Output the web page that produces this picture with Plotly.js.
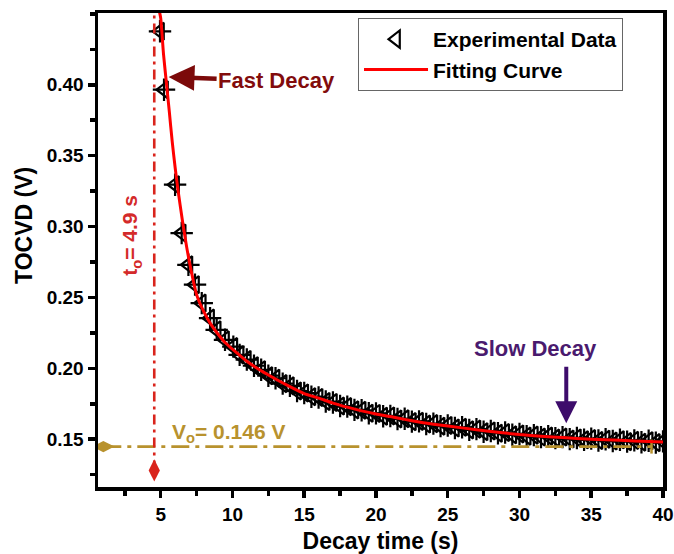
<!DOCTYPE html>
<html>
<head>
<meta charset="utf-8">
<script src="https://cdn.plot.ly/plotly-3.0.1.min.js"></script>
<style>html,body{margin:0;padding:0;background:#fff;}#chart{width:674px;height:554px;}</style>
</head>
<body>
<div id="chart"></div>
<script>
var expTime = [4.95, 5.23, 6.0, 6.46, 6.93, 7.39, 7.86, 8.44, 8.9, 9.48, 10.06,
  10.5, 11.0, 11.5, 12.0, 12.5, 13.0, 13.5, 14.0, 14.5, 15.0, 15.5, 16.0, 16.5, 17.0, 17.5,
  18.0, 18.5, 19.0, 19.5, 20.0, 20.5, 21.0, 21.5, 22.0, 22.5, 23.0, 23.5, 24.0, 24.5, 25.0,
  25.5, 26.0, 26.5, 27.0, 27.5, 28.0, 28.5, 29.0, 29.5, 30.0, 30.5, 31.0, 31.5, 32.0, 32.5,
  33.0, 33.5, 34.0, 34.5, 35.0, 35.5, 36.0, 36.5, 37.0, 37.5, 38.0, 38.5, 39.0, 39.5, 40.0];
var expVoltage = [0.4377, 0.3965, 0.3295, 0.2954, 0.2730, 0.2590, 0.2460, 0.2354, 0.2271, 0.2201, 0.2153,
  0.2095, 0.2062, 0.2018, 0.1990, 0.1948, 0.1930, 0.1892, 0.1876, 0.1840, 0.1826, 0.1800, 0.1794, 0.1766, 0.1759, 0.1734,
  0.1730, 0.1707, 0.1704, 0.1683, 0.1682, 0.1662, 0.1664, 0.1643, 0.1644, 0.1624, 0.1626, 0.1607, 0.1610, 0.1592, 0.1597,
  0.1579, 0.1584, 0.1566, 0.1571, 0.1553, 0.1558, 0.1542, 0.1547, 0.1531, 0.1537, 0.1522, 0.1529, 0.1515, 0.1522, 0.1508,
  0.1515, 0.1501, 0.1509, 0.1496, 0.1504, 0.1491, 0.1500, 0.1487, 0.1496, 0.1483, 0.1492, 0.1479, 0.1489, 0.1476, 0.1485];

// Fitting curve
var fitTime = [4.9, 5.0, 5.2, 5.4, 5.6, 5.8, 6.0, 6.2, 6.5, 6.8, 7.1, 7.5, 8.0, 8.5, 9.0, 9.5,
  10, 11, 12, 13, 14, 15, 16, 17, 18, 19, 20, 21, 22, 23, 24, 26, 28, 30, 32, 34, 36, 38, 40];
var fitVoltage = [0.452, 0.447, 0.421, 0.401, 0.381, 0.360, 0.342, 0.326, 0.305, 0.286, 0.270, 0.252, 0.240, 0.231, 0.224, 0.218,
  0.2135, 0.2050, 0.1983, 0.1925, 0.1871, 0.1822, 0.1790, 0.1755, 0.1726, 0.1700, 0.1678, 0.1660, 0.1640, 0.1622, 0.1606,
  0.1580, 0.1554, 0.1533, 0.1518, 0.1505, 0.1496, 0.1488, 0.1481];

// Reference markers drawn in the figure
var t0LineX = [4.55, 4.55];
var t0LineY = [0.128, 0.452];
var v0LineX = [1.0, 39.2];
var v0LineY = [0.1448, 0.1448];

var xTicks = [5, 10, 15, 20, 25, 30, 35, 40];
var yTicks = [0.15, 0.20, 0.25, 0.30, 0.35, 0.40];
var yTickText = ['0.15', '0.20', '0.25', '0.30', '0.35', '0.40'];

var FONT = '"Liberation Sans", Arial, Helvetica, sans-serif';

var traces = [
  {x: expTime, y: expVoltage, type: 'scatter', mode: 'markers', name: 'Experimental Data',
   legendgroup: 'a',
   marker: {symbol: 'triangle-left-open', size: 15, color: '#000', line: {width: 2.2, color: '#000'}}},
  {x: expTime, y: expVoltage, type: 'scatter', mode: 'markers', showlegend: false, hoverinfo: 'skip',
   marker: {symbol: 'cross-thin-open', size: 16, color: '#000', line: {width: 2.2, color: '#000'}}},
  {x: v0LineX, y: v0LineY, type: 'scatter', mode: 'lines', showlegend: false, hoverinfo: 'skip',
   line: {color: '#b8922e', width: 2.8, dash: '18px,6px,4px,6px'}},
  {x: [v0LineX[0]], y: [v0LineY[0]], type: 'scatter', mode: 'markers', showlegend: false, hoverinfo: 'skip',
   marker: {symbol: 'diamond-wide', size: 16, color: '#b8922e'}},
  {x: [v0LineX[1]], y: [v0LineY[1]], type: 'scatter', mode: 'markers', showlegend: false, hoverinfo: 'skip',
   marker: {symbol: 'line-ns-open', size: 10, color: '#b8922e', line: {width: 2.5, color: '#b8922e'}}},
  {x: t0LineX, y: t0LineY, type: 'scatter', mode: 'lines', showlegend: false, hoverinfo: 'skip',
   line: {color: '#d9241c', width: 2.6, dash: '10px,5px,3px,5px'}},
  {x: [t0LineX[0]], y: [t0LineY[0]], type: 'scatter', mode: 'markers', showlegend: false, hoverinfo: 'skip',
   marker: {symbol: 'diamond-tall', size: 16, color: '#d9241c'}},
  {x: fitTime, y: fitVoltage, type: 'scatter', mode: 'lines', name: 'Fitting Curve',
   legendgroup: 'b', line: {color: '#ff0000', width: 3, shape: 'spline', smoothing: 0.6}}
];

var layout = {
  width: 674, height: 554,
  margin: {l: 98, r: 11, t: 13, b: 67},
  paper_bgcolor: '#fff', plot_bgcolor: '#fff',
  font: {family: FONT, color: '#000', weight: 'bold'},
  showlegend: true,
  legend: {x: 0.4602, y: 0.9895, xanchor: 'left', yanchor: 'top',
    bgcolor: '#fff', bordercolor: '#666', borderwidth: 1,
    font: {family: FONT, size: 21, color: '#000', weight: 'bold'},
    traceorder: 'grouped', tracegroupgap: 0, itemwidth: 64},
  xaxis: {range: [0.63, 40], tickmode: 'array', tickvals: xTicks,
    showgrid: false, zeroline: false, showline: true, mirror: true, linewidth: 3.5, linecolor: '#000',
    ticks: 'outside', ticklen: 7, tickwidth: 3.5, tickcolor: '#000', ticklabelstandoff: 1,
    minor: {dtick: 2.5, tick0: 0, ticks: 'outside', ticklen: 5, tickwidth: 3.5, tickcolor: '#000', showgrid: false},
    tickfont: {family: FONT, size: 19, color: '#000', weight: 'bold'},
    title: {text: 'Decay time (s)', font: {family: FONT, size: 23, color: '#000', weight: 'bold'}, standoff: 9},
    automargin: false},
  yaxis: {range: [0.1163, 0.4506], tickmode: 'array', tickvals: yTicks, ticktext: yTickText,
    showgrid: false, zeroline: false, showline: true, mirror: true, linewidth: 3.5, linecolor: '#000',
    ticks: 'outside', ticklen: 7, tickwidth: 3.5, tickcolor: '#000',
    minor: {dtick: 0.025, tick0: 0, ticks: 'outside', ticklen: 5, tickwidth: 3.5, tickcolor: '#000', showgrid: false},
    tickfont: {family: FONT, size: 19, color: '#000', weight: 'bold'},
    automargin: false},
  annotations: [
    {x: 0, y: 0, xref: 'paper', yref: 'paper', xanchor: 'center', yanchor: 'middle',
     text: 'TOCVD (V)', showarrow: false, textangle: -90,
     font: {family: FONT, size: 23, color: '#000', weight: 'bold'}},
    {x: 5.55, y: 0.4055, xref: 'x', yref: 'y', ax: 108, ay: 4, axref: 'pixel', ayref: 'pixel',
     text: 'Fast Decay', showarrow: true, arrowhead: 2, arrowsize: 1.15, arrowwidth: 4.5, arrowcolor: '#7c0a0a',
     font: {family: FONT, size: 22, color: '#820c0c', weight: 'bold'}},
    {x: 31.14, y: 0.2139, xref: 'x', yref: 'y', text: 'Slow Decay', showarrow: false,
     font: {family: FONT, size: 22, color: '#4a1a6e', weight: 'bold'}},
    {x: 33.26, y: 0.1613, xref: 'x', yref: 'y', ax: 0, ay: -58, text: '', showarrow: true,
     arrowhead: 2, arrowsize: 1.1, arrowwidth: 4, arrowcolor: '#3d0c6b'},
    {x: 2.93, y: 0.2935, xref: 'x', yref: 'y', text: 't<sub>o</sub>= 4.9 s', showarrow: false, textangle: -90,
     font: {family: FONT, size: 21, color: '#d42a2a', weight: 'bold'}},
    {x: 9.76, y: 0.1545, xref: 'x', yref: 'y', text: 'V<sub>o</sub>= 0.146 V', showarrow: false,
     font: {family: FONT, size: 21, color: '#b8922e', weight: 'bold'}}
  ]
};
// Y title placed in pixel space (centre at 24 px, 226 px): convert to paper fractions
layout.annotations[0].x = (24 - layout.margin.l) / (674 - layout.margin.l - layout.margin.r);
layout.annotations[0].y = (554 - layout.margin.b - 226) / (554 - layout.margin.t - layout.margin.b);

Plotly.newPlot('chart', traces, layout, {displayModeBar: false, staticPlot: true});
</script>
</body>
</html>
